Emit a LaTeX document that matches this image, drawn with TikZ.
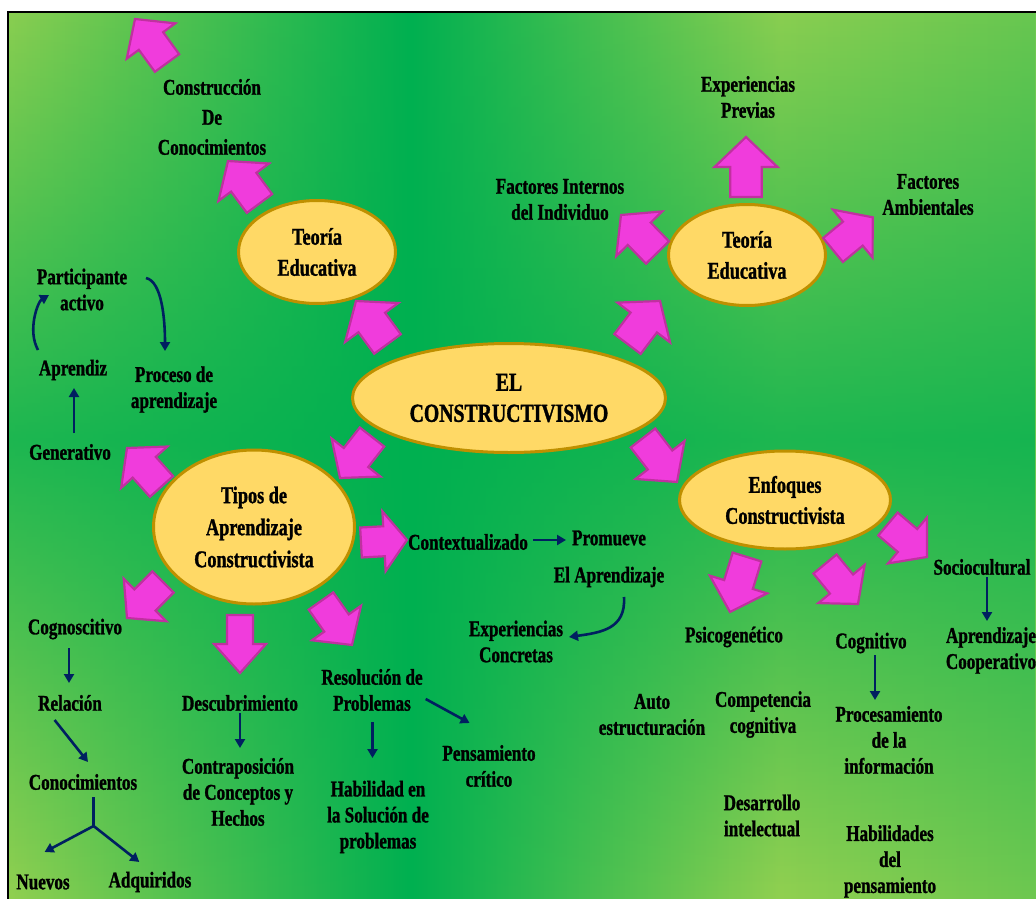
\documentclass[tikz,border=0pt]{standalone}
\usepackage{fontspec}
\newfontfamily\tnr{Liberation Serif}[FakeStretch=0.76, BoldFeatures={FakeStretch=0.76, FakeBold=1.2}]
\usetikzlibrary{calc,shapes.geometric,arrows.meta,fadings}

\definecolor{bglight}{RGB}{146,208,80}
\definecolor{bgdark}{RGB}{0,176,80}
\definecolor{pinkf}{RGB}{240,60,220}
\definecolor{pinkd}{RGB}{192,48,160}
\definecolor{ellf}{RGB}{255,217,102}
\definecolor{elld}{RGB}{191,144,0}
\definecolor{navyc}{RGB}{0,32,96}

\tikzfading[name=fmid, top color=transparent!100, bottom color=transparent!100, middle color=transparent!0]

% block arrow: tail (x1,y1), tip (x2,y2), width
\newcommand\blkarrow[5]{%
  \pgfmathsetmacro\bdx{(#3)-(#1)}%
  \pgfmathsetmacro\bdy{(#4)-(#2)}%
  \pgfmathsetmacro\blen{veclen(\bdx,\bdy)}%
  \pgfmathsetmacro\bnx{-1*(\bdy)/\blen}%
  \pgfmathsetmacro\bny{(\bdx)/\blen}%
  \pgfmathsetmacro\bhx{(#3)-0.5*(\bdx)}%
  \pgfmathsetmacro\bhy{(#4)-0.5*(\bdy)}%
  \pgfmathsetmacro\bw{(#5)/2}%
  \pgfmathsetmacro\bs{(#5)/4}%
  \filldraw[parrow] ({#1+\bs*(\bnx)},{#2+\bs*(\bny)}) -- ({\bhx+\bs*(\bnx)},{\bhy+\bs*(\bny)})
    -- ({\bhx+\bw*(\bnx)},{\bhy+\bw*(\bny)}) -- (#3,#4)
    -- ({\bhx-\bw*(\bnx)},{\bhy-\bw*(\bny)}) -- ({\bhx-\bs*(\bnx)},{\bhy-\bs*(\bny)})
    -- ({#1-\bs*(\bnx)},{#2-\bs*(\bny)}) -- cycle;}

\begin{document}
\begin{tikzpicture}[x=1pt,y=-1pt,
  txt/.style={font=\tnr\bfseries\fontsize{22.5}{26}\selectfont, align=center, inner sep=2pt, text=black},
  ell/.style={ellipse, draw=elld, fill=ellf, line width=3pt, inner sep=0pt,
              font=\tnr\bfseries\fontsize{24}{31}\selectfont, align=center},
  nav/.style={draw=navyc, line width=2.6pt, -{Triangle[length=9pt,width=10pt]}},
  navline/.style={draw=navyc, line width=2.6pt},
  parrow/.style={fill=pinkf, draw=pinkd, line width=2.2pt, line join=miter}]

\useasboundingbox (0,0) rectangle (1036,899);
% background
\fill[white] (0,0) rectangle (1036,899);
\shade[left color=bglight, right color=bgdark] (8,12) rectangle (411,899);
\shade[left color=bgdark, right color=bglight] (410,12) rectangle (781,899);
\shade[left color=bglight, right color=bglight!75!bgdark] (780,12) rectangle (1036,899);
\begin{scope}
  \clip (8,12) rectangle (1036,899);
  \fill[bgdark, path fading=fmid, fill opacity=0.8] (8,-19) rectangle (1036,899);
\end{scope}
\draw[black, line width=2pt] (8,905) -- (8,12) -- (1040,12);

% ellipses
\node[ell, minimum width=157pt, minimum height=103pt] (tl) at (317,252) {Teoría\\Educativa};
\node[ell, minimum width=157pt, minimum height=101pt] (tr) at (747,255) {Teoría\\Educativa};
\node[ell, minimum width=313pt, minimum height=109pt, font=\tnr\bfseries\fontsize{26}{31}\selectfont] (ec) at (509,398) {EL\\CONSTRUCTIVISMO};
\node[ell, minimum width=201pt, minimum height=154pt, font=\tnr\bfseries\fontsize{24}{32}\selectfont] (tipos) at (254,527) {Tipos de\\Aprendizaje\\Constructivista};
\node[ell, minimum width=211pt, minimum height=98pt] (enf) at (785,500) {Enfoques\\Constructivista};

% pink block arrows
\blkarrow{167}{63}{135}{19}{60}
\blkarrow{259.5}{203.5}{228}{161}{63}
\blkarrow{387.5}{344}{356}{301}{66}
\blkarrow{627.5}{344}{660}{301}{66}
\blkarrow{657.5}{252.5}{621}{215}{64}
\blkarrow{746}{197}{746}{137}{63}
\blkarrow{833}{250}{872.7}{217.3}{62}
\blkarrow{372}{437}{340}{478}{62}
\blkarrow{643}{438}{677}{482}{62}
\blkarrow{161.5}{486.5}{127}{448}{62}
\blkarrow{163}{582}{127}{618}{60}
\blkarrow{240}{615}{240}{673}{52}
\blkarrow{321}{601}{352}{645}{60}
\blkarrow{361}{542.5}{407}{540}{60}
\blkarrow{747}{557}{730}{612}{60}
\blkarrow{825}{564}{858}{604}{60}
\blkarrow{888}{524}{927}{557}{60}

% text nodes
\node[txt, font=\tnr\bfseries\fontsize{22.5}{30}\selectfont] (cons) at (212,117) {Construcción\\De\\Conocimientos};
\node[txt] (expp) at (748,97) {Experiencias\\Previas};
\node[txt] (fint) at (560,199.5) {Factores Internos\\del Individuo};
\node[txt] (famb) at (928,194.5) {Factores\\Ambientales};
\node[txt] (part) at (82,289.5) {Participante\\activo};
\node[txt] (aprz) at (73,370) {Aprendiz};
\node[txt] (proc) at (174,389.5) {Proceso de\\aprendizaje};
\node[txt] (gen) at (70,452) {Generativo};
\node[txt] (cogn) at (75,629) {Cognoscitivo};
\node[txt] (rel) at (70,703) {Relación};
\node[txt] (conoc) at (83,782) {Conocimientos};
\node[txt] (nuev) at (43,882) {Nuevos};
\node[txt] (adq) at (150,882) {Adquiridos};
\node[txt] (desc) at (240,703) {Descubrimiento};
\node[txt] (contra) at (238,792) {Contraposición\\de Conceptos y\\Hechos};
\node[txt] (resol) at (372,690) {Resolución de\\Problemas};
\node[txt] (habil) at (378,817) {Habilidad en\\la Solución de\\problemas};
\node[txt] (pens) at (489,766) {Pensamiento\\crítico};
\node[txt] (ctx) at (468,542) {Contextualizado};
\node[txt] (prom) at (609,538) {Promueve};
\node[txt] (elap) at (609,577) {El Aprendizaje};
\node[txt] (expc) at (516,641.5) {Experiencias\\Concretas};
\node[txt] (psico) at (734,637) {Psicogenético};
\node[txt] (cogt) at (871,643) {Cognitivo};
\node[txt] (socio) at (982,567) {Sociocultural};
\node[txt] (apco) at (991,650.5) {Aprendizaje\\Cooperativo};
\node[txt] (auto) at (652,714.5) {Auto\\estructuración};
\node[txt] (comp) at (763,714.5) {Competencia\\cognitiva};
\node[txt] (procs) at (889,740) {Procesamiento\\de la\\información};
\node[txt] (desa) at (762,815.5) {Desarrollo\\intelectual};
\node[txt] (habs) at (890,861.5) {Habilidades\\del\\pensamiento};

% navy connectors
\draw[nav] ($(gen)+(4,-19)$) -- ($(aprz)+(1,18)$);
\draw[nav] ($(aprz)+(-35,-20)$) .. controls ($(aprz)+(-46,-40)$) and ($(part)+(-44,12)$) .. ($(part)+(-33,5.5)$);
\draw[nav] ($(part)+(64,-11.5)$) .. controls ($(part)+(80,-8)$) and ($(proc)+(-9,-70)$) .. ($(proc)+(-9,-38.5)$);
\draw[nav] ($(cogn)+(-6,19)$) -- ($(rel)+(-1,-20)$);
\draw[nav] ($(rel)+(-15.4,17)$) -- ($(conoc)+(5,-20)$);
\coordinate (ybr) at (93.6,826);
\draw[navline] ($(conoc)+(10.6,15)$) -- (ybr);
\draw[nav] (ybr) -- ($(nuev)+(1.6,-30)$);
\draw[nav] (ybr) -- ($(adq)+(-10.7,-20)$);
\draw[nav] ($(desc)+(0,10)$) -- ($(contra)+(2,-44)$);
\draw[nav] ($(resol)+(0.5,32)$) -- ($(habil)+(-5.5,-59)$);
\draw[nav] ($(resol)+(53.7,9)$) -- ($(pens)+(-19.4,-43)$);
\draw[nav] ($(ctx)+(65,-2)$) -- ($(prom)+(-43,2)$);
\draw[nav] ($(elap)+(15,20)$) .. controls ($(elap)+(17,52)$) and ($(expc)+(85,-9)$) .. ($(expc)+(53,-4.5)$);
\draw[nav] ($(cogt)+(4,12)$) -- ($(procs)+(-14,-40)$);
\draw[nav] ($(socio)+(5,10)$) -- ($(apco)+(-4,-29.5)$);
\end{tikzpicture}
\end{document}
